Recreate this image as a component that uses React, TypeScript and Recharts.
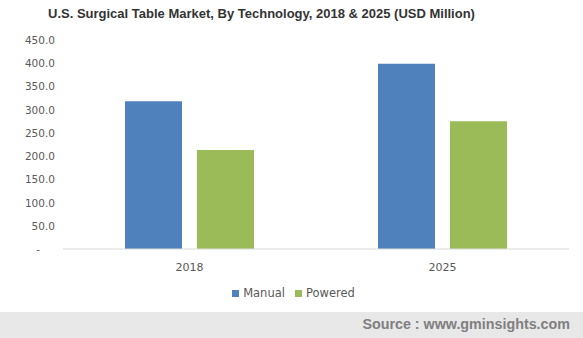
import React from 'react';
import { BarChart, Bar, XAxis, YAxis, Legend } from 'recharts';

const years = ['2018', '2025'];
const manual = [318, 399];
const powered = [213, 275];
const yTicks = [0, 50, 100, 150, 200, 250, 300, 350, 400, 450];

const data = years.map((y, i) => ({ year: y, Manual: manual[i], Powered: powered[i] }));

const AXIS_FONT = '"DejaVu Sans", Tahoma, sans-serif';

// Excel-style accounting format: zero shows as a dash, set a bit left
const YTick = (props: any) => {
  const { x, y, payload } = props;
  const isZero = payload.value === 0;
  return (
    <text
      x={isZero ? x - 15 : x}
      y={y}
      dy={4}
      textAnchor="end"
      fill="#595959"
      fontSize={10.5}
      fontFamily={AXIS_FONT}
    >
      {isZero ? '-' : payload.value.toFixed(1)}
    </text>
  );
};

export default function App() {
  return (
    <div style={{ position: 'absolute', left: 0, top: 0, width: 583, height: 338, background: '#fff', overflow: 'hidden' }}>
      <div
        style={{
          position: 'absolute',
          left: 48,
          top: 6,
          fontFamily: '"Liberation Sans", Arial, sans-serif',
          fontWeight: 'bold',
          fontSize: 13,
          color: '#333',
          whiteSpace: 'nowrap',
        }}
      >
        U.S. Surgical Table Market, By Technology, 2018 &amp; 2025 (USD Million)
      </div>

      <BarChart
        width={583}
        height={312}
        data={data}
        margin={{ top: 40, right: 14, left: 0, bottom: 19 }}
        barGap={15}
        barCategoryGap={62}
      >
        <XAxis
          dataKey="year"
          height={30}
          tickLine={false}
          axisLine={{ stroke: '#d9d9d9' }}
          tick={{ fill: '#595959', fontSize: 11, fontFamily: AXIS_FONT }}
          tickMargin={8}
        />
        <YAxis
          width={63}
          domain={[0, 450]}
          ticks={yTicks}
          axisLine={false}
          tickLine={false}
          tick={<YTick />}
          interval={0}
        />
        <Legend
          iconType="square"
          iconSize={7}
          wrapperStyle={{ left: 14, bottom: 12, fontFamily: AXIS_FONT, fontSize: 11.5, color: '#595959' }}
          formatter={(value: string) => <span style={{ color: '#595959' }}>{value}</span>}
        />
        <Bar dataKey="Manual" fill="#4f81bd" isAnimationActive={false} />
        <Bar dataKey="Powered" fill="#9bbb59" isAnimationActive={false} />
      </BarChart>

      <div
        style={{
          position: 'absolute',
          left: 0,
          top: 312,
          width: 583,
          height: 26,
          background: '#e8e8e8',
        }}
      >
        <div
          style={{
            position: 'absolute',
            right: 13,
            top: 4,
            fontFamily: '"Liberation Sans", Arial, sans-serif',
            fontWeight: 'bold',
            fontSize: 14.3,
            color: '#7f7f7f',
            whiteSpace: 'nowrap',
          }}
        >
          Source : www.gminsights.com
        </div>
      </div>
    </div>
  );
}
